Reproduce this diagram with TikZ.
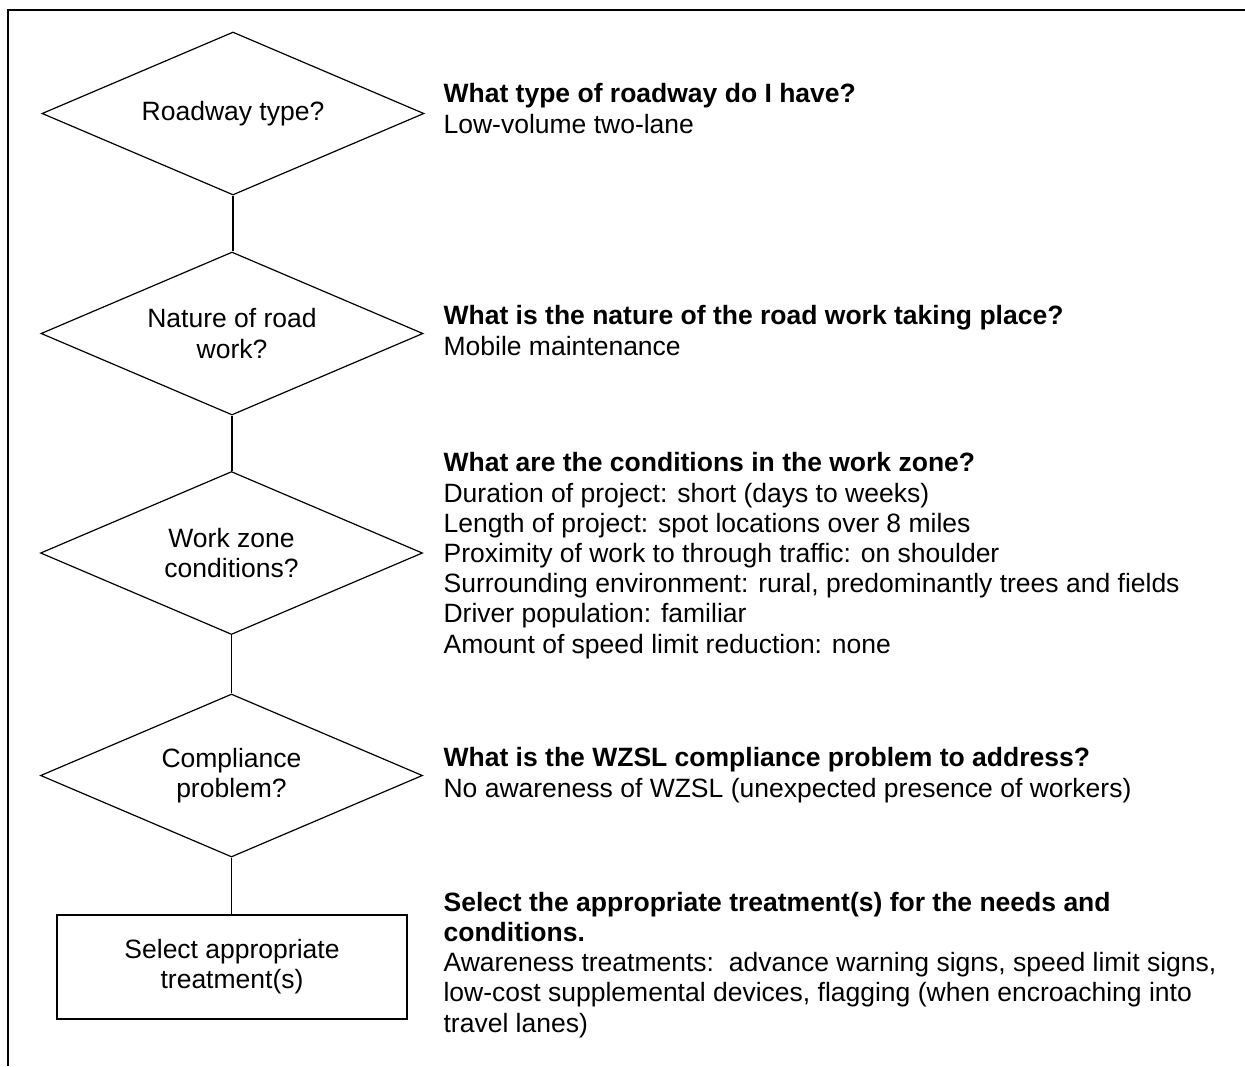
\documentclass[tikz,border=0pt]{standalone}
\usepackage{fontspec}
\setmainfont{Liberation Sans}
\usetikzlibrary{shapes.geometric}

\begin{document}
\begin{tikzpicture}[x=0.5pt, y=-0.5pt, line width=0.6pt, line join=miter,
  txt/.style={font=\fontsize{13.25}{15.1}\selectfont},
  decision/.style={draw, diamond, txt, align=center, aspect=2.33, inner sep=0pt,
                   minimum width=191pt, minimum height=81.5pt},
  action/.style={draw, rectangle, txt, align=center, inner sep=0pt,
                 minimum width=175pt, minimum height=52pt},
  note/.style={txt, align=left, anchor=base west, inner sep=0pt}]

  %% ════ frame ════
  \draw[line width=1pt] (8,1066) -- (8,10) -- (1245,10);

  %% ════ flow (left column) ════
  \node[decision] (roadway) at (233,113.5) {Roadway type?};
  \node[decision] (nature)  at (232,333.5) {Nature of road\\work?};
  \node[decision] (zone)    at (231.5,553) {Work zone\\conditions?};
  \node[decision] (comply)  at (231.5,775.5) {Compliance\\problem?};
  \node[action]   (select)  at (232,967) {Select appropriate\\treatment(s)};

  \draw (roadway.south) -- (roadway.south |- nature.north);
  \draw (nature.south)  -- (nature.south |- zone.north);
  \draw (zone.south)    -- (zone.south |- comply.north);
  \draw (comply.south)  -- (comply.south |- select.north);

  %% ════ questions / answers (right column) ════
  %% base anchor = baseline of the last line
  \node[note] (qroad) at (443,133) {\textbf{What type of roadway do I have?}\\
    Low-volume two-lane};
  \node[note] (qwork) at (443,355) {\textbf{What is the nature of the road work taking place?}\\
    Mobile maintenance};
  \node[note] (qzone) at (443,653) {\textbf{What are the conditions in the work zone?}\\
    Duration of project: short (days to weeks)\\
    Length of project: spot locations over 8 miles\\
    Proximity of work to through traffic: on shoulder\\
    Surrounding environment: rural, predominantly trees and fields\\
    Driver population: familiar\\
    Amount of speed limit reduction: none};
  \node[note] (qcomp) at (443,797) {\textbf{What is the WZSL compliance problem to address?}\\
    No awareness of WZSL (unexpected presence of workers)};
  \node[note] (qsel) at (443,1032) {\textbf{Select the appropriate treatment(s) for the needs and}\\
    \textbf{conditions.}\\
    Awareness treatments:\ \ advance warning signs, speed limit signs,\\
    low-cost supplemental devices, flagging (when encroaching into\\
    travel lanes)};

  % pin the canvas to the reference size
  \pgfresetboundingbox
  \path[use as bounding box] (0,0) rectangle (1245,1066);
\end{tikzpicture}
\end{document}
